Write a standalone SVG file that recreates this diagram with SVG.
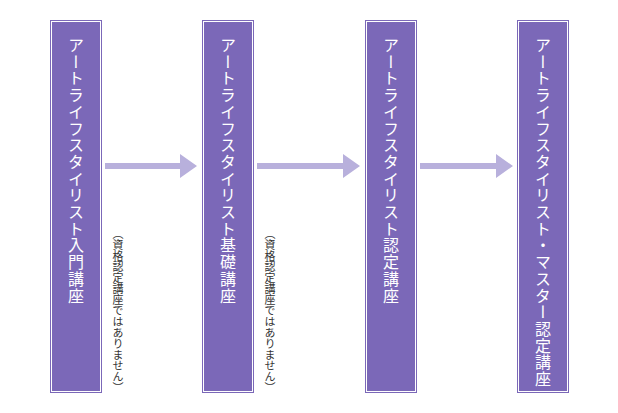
<svg xmlns="http://www.w3.org/2000/svg" width="618" height="413" viewBox="0 0 618 413">
<style>
.box{fill:#7b68b8;stroke:#fff;stroke-width:1}
.frame{fill:none;stroke:#7b68b8;stroke-width:1}
.t{font-family:"Noto Sans CJK JP","Noto Sans",sans-serif;font-size:16px;letter-spacing:0.7px;fill:#fff;writing-mode:vertical-rl}
.n{font-family:"Noto Sans CJK JP","Noto Sans",sans-serif;font-size:11px;fill:#333;writing-mode:vertical-rl}
.arr{fill:#b8b0dc}
</style>
<g id="node1"><rect class="frame" x="50.5" y="20.5" width="51" height="372"/><rect class="box" x="51.5" y="21.5" width="49" height="370"/><text class="t" x="76" y="37">アートライフスタイリスト入門講座</text></g>
<g id="node2"><rect class="frame" x="202.5" y="20.5" width="51" height="372"/><rect class="box" x="203.5" y="21.5" width="49" height="370"/><text class="t" x="228" y="37">アートライフスタイリスト基礎講座</text></g>
<g id="node3"><rect class="frame" x="365.5" y="20.5" width="51" height="372"/><rect class="box" x="366.5" y="21.5" width="49" height="370"/><text class="t" x="391" y="37">アートライフスタイリスト認定講座</text></g>
<g id="node4"><rect class="frame" x="517.5" y="20.5" width="51" height="372"/><rect class="box" x="518.5" y="21.5" width="49" height="370"/><text class="t" x="543" y="37">アートライフスタイリスト・マスター認定講座</text></g>
<g id="connectors">
<path class="arr" d="M105,163h75v-9l17,12l-17,12v-9h-75z"/>
<path class="arr" d="M257,163h86v-9l17,12l-17,12v-9h-86z"/>
<path class="arr" d="M420,163h76v-9l17,12l-17,12v-9h-76z"/>
</g>
<text class="n" x="118" y="228">（資格認定講座ではありません）</text>
<text class="n" x="270" y="228">（資格認定講座ではありません）</text>
</svg>
